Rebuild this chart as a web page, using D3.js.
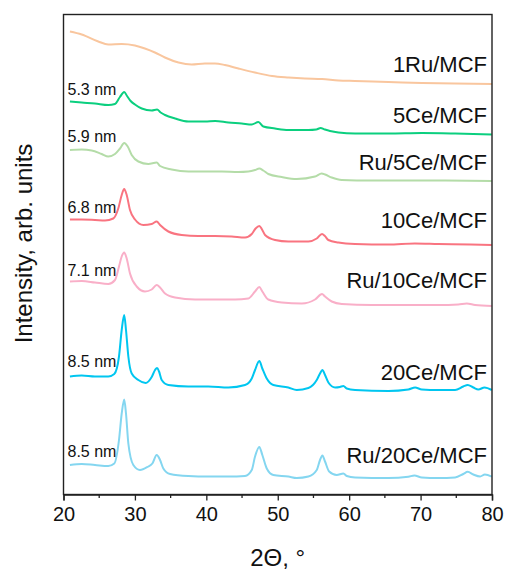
<!DOCTYPE html>
<html>
<head>
<meta charset="utf-8">
<script src="https://cdn.jsdelivr.net/npm/d3@7/dist/d3.min.js"></script>
<style>
  html, body { margin: 0; padding: 0; background: #fff; }
  svg { display: block; font-family: "Liberation Sans", Arial, sans-serif; }
</style>
</head>
<body>
<svg id="chart" width="505" height="570"></svg>
<script>
// XRD patterns, stacked with vertical offsets (arbitrary intensity units)
const seriesNames = ["1Ru/MCF", "5Ce/MCF", "Ru/5Ce/MCF", "10Ce/MCF", "Ru/10Ce/MCF", "20Ce/MCF", "Ru/20Ce/MCF"];
const crystalliteSizes = [null, "5.3 nm", "5.9 nm", "6.8 nm", "7.1 nm", "8.5 nm", "8.5 nm"];
const seriesColors = ["#F9C69E", "#0BCF7F", "#B4DCA8", "#F97480", "#F9AFC8", "#00C6F0", "#84D6F0"];
// baseline level of each name label and size label (same units as intensity)
const nameLevels = [422.5, 371.5, 324.5, 266.5, 206.5, 114.5, 31.5];
const sizeLevels = [null, 399.5, 353, 282, 218.5, 128, 38];

const xTicks = [20, 30, 40, 50, 60, 70, 80];
const xMinorTicks = [25, 35, 45, 55, 65, 75];

// [2θ (deg), intensity]
const ru1MCF = [
  [20.9, 463], [22.55, 460], [24.87, 453], [26.27, 450], [28.15, 450.5], [30.0, 449],
  [31.4, 446], [32.8, 442], [34.2, 437], [36.1, 432], [37.95, 430], [39.8, 431],
  [41.2, 431], [42.6, 429.5], [44.5, 426], [46.8, 422], [49.2, 418.5], [51.5, 417],
  [53.8, 416], [56.2, 415.5], [58.5, 414], [60.8, 413.5], [65.5, 412.5], [70.2, 411.5],
  [74.8, 411], [80.0, 410.5]
];
const ce5MCF = [
  [20.9, 393], [22.55, 392], [24.41, 391], [26.27, 389.5], [27.2, 390.5], [27.9, 397.5],
  [28.5, 402.5], [28.9, 398.5], [29.4, 393.5], [30.0, 390], [30.95, 386], [32.35, 384],
  [33.1, 385], [33.6, 382], [34.22, 379.5], [35.62, 376], [37.48, 373], [39.82, 373],
  [41.22, 373.5], [43.08, 372], [44.96, 371], [46.36, 370], [47.3, 372.5], [47.98, 368],
  [49.62, 366], [51.48, 364.5], [54.29, 364.5], [55.4, 365], [56.0, 366.5], [56.6, 365],
  [57.32, 363.5], [58.49, 362], [60.83, 361], [65.49, 361], [70.17, 361.5], [74.83, 361],
  [79.97, 360]
];
const ru5CeMCF = [
  [20.9, 344.5], [22.55, 345], [23.95, 344], [25.35, 340.5], [26.27, 338], [27.21, 340.5],
  [27.91, 346], [28.5, 351.5], [28.99, 348], [29.55, 339.5], [30.48, 333], [31.88, 330.5],
  [33.05, 332], [33.52, 328.5], [35.15, 325], [37.48, 323], [39.82, 323], [42.16, 323],
  [44.48, 322.5], [45.88, 323], [46.82, 324.5], [47.42, 326], [47.98, 324], [48.68, 320.5],
  [50.56, 317.5], [52.66, 315.5], [55.22, 318], [56.16, 321], [56.62, 320], [57.56, 317],
  [58.96, 314.5], [63.16, 314], [67.83, 314], [72.49, 314], [79.97, 313.5]
];
const ce10MCF = [
  [20.9, 275], [22.55, 275], [24.41, 274.5], [25.81, 274], [26.97, 276], [27.67, 286],
  [28.15, 299.5], [28.5, 305.5], [28.85, 299.5], [29.31, 284.5], [30.01, 275], [31.18, 269.5],
  [32.35, 270.5], [33.05, 273], [33.52, 269.5], [34.68, 263], [36.55, 259.5], [38.88, 258.5],
  [41.22, 258.5], [43.56, 258], [45.42, 257], [46.36, 260.5], [46.9, 266], [47.42, 268.5],
  [47.8, 265], [48.22, 259.5], [49.62, 254.5], [51.48, 253], [54.29, 253], [55.46, 256],
  [56.2, 260.5], [56.6, 258.5], [57.09, 254.5], [58.49, 252], [60.83, 250.5], [65.49, 250],
  [69.2, 251], [72.49, 250.5], [77.0, 250], [79.97, 249.5]
];
const ru10CeMCF = [
  [20.9, 213], [22.55, 213.5], [24.41, 212], [26.27, 210.5], [27.21, 214.5], [27.77, 228],
  [28.15, 238], [28.5, 242], [28.85, 236], [29.31, 221], [30.25, 208], [31.41, 203],
  [32.35, 205], [33.05, 209.5], [33.52, 207], [34.22, 201], [35.62, 197], [38.42, 195],
  [41.22, 195], [44.02, 195], [45.88, 196], [46.82, 203], [47.42, 207.5], [47.84, 203],
  [48.68, 195], [50.56, 192], [53.36, 191], [55.22, 195], [56.2, 200.5], [56.62, 198],
  [57.56, 193], [58.96, 190.5], [63.16, 189.5], [67.83, 189.5], [72.49, 189.5], [75.28, 190],
  [76.46, 191], [77.63, 189.5], [79.97, 188.5]
];
const ce20MCF = [
  [20.9, 118], [22.55, 119], [24.41, 118], [26.27, 118], [27.11, 120.5], [27.77, 138],
  [28.15, 164.5], [28.5, 179.5], [28.75, 164.5], [29.08, 138], [29.55, 121], [30.48, 114.5],
  [31.5, 111.5], [32.35, 117.5], [32.82, 124.5], [33.1, 126.5], [33.38, 123], [33.75, 114.5],
  [34.68, 109.5], [37.48, 108], [40.28, 108], [43.08, 107], [45.42, 109.5], [46.36, 116],
  [46.82, 124.5], [47.42, 133.5], [47.84, 126], [48.46, 116], [49.38, 109.5], [51.48, 107],
  [52.66, 104.5], [54.29, 106.5], [55.46, 114.5], [55.92, 121], [56.25, 124.5], [56.62, 119.5],
  [57.09, 112], [58.03, 107], [58.7, 107.5], [59.19, 108.5], [59.66, 106], [60.83, 104.5],
  [65.49, 103.5], [68.29, 105], [69.23, 107], [70.17, 105], [72.49, 104.5], [74.83, 104.5],
  [75.98, 108], [76.6, 109.5], [77.39, 107], [78.09, 105], [78.95, 107], [79.97, 104.5]
];
const ru20CeMCF = [
  [20.9, 29.5], [22.55, 30.5], [24.41, 29.5], [26.27, 28.5], [27.11, 31], [27.77, 54.5],
  [28.15, 81], [28.5, 95], [28.75, 81], [29.08, 51], [29.78, 29.5], [30.71, 24.5],
  [31.75, 27.5], [32.44, 31], [33.05, 39.5], [33.52, 34.5], [33.98, 26], [34.92, 20.5],
  [37.48, 18.5], [40.28, 18], [43.08, 18], [45.42, 18.5], [46.36, 24.5], [46.82, 38],
  [47.42, 47.5], [47.84, 39.5], [48.46, 26], [49.38, 19.5], [51.48, 18], [52.66, 16.5],
  [54.29, 18], [55.46, 24.5], [55.92, 34.5], [56.25, 39], [56.62, 33], [57.2, 23],
  [58.26, 19.5], [59.19, 21], [59.66, 18.5], [60.83, 17], [65.49, 16.5], [68.29, 17.8],
  [69.13, 19], [70.17, 17], [72.49, 16.5], [74.83, 17], [75.98, 20.5], [76.6, 22.7],
  [77.39, 20], [78.33, 18], [79.0, 20], [79.97, 17.8]
];
const seriesData = [ru1MCF, ce5MCF, ru5CeMCF, ce10MCF, ru10CeMCF, ce20MCF, ru20CeMCF];

const svg = d3.select("#chart");
const plot = { left: 63.5, right: 492, top: 14.5, bottom: 494.5 };

const x = d3.scaleLinear().domain([20, 80]).range([plot.left, plot.right]);
const y = d3.scaleLinear().domain([0, 480]).range([plot.bottom, plot.top]);

// curves
const line = d3.line()
  .x(d => x(d[0]))
  .y(d => y(d[1]))
  .curve(d3.curveMonotoneX);

svg.append("g")
  .selectAll("path")
  .data(seriesData)
  .join("path")
  .attr("d", line)
  .attr("fill", "none")
  .attr("stroke", (d, i) => seriesColors[i])
  .attr("stroke-width", 2)
  .attr("stroke-linejoin", "round");

// frame
svg.append("rect")
  .attr("x", plot.left).attr("y", plot.top)
  .attr("width", plot.right - plot.left)
  .attr("height", plot.bottom - plot.top)
  .attr("fill", "none")
  .attr("stroke", "#222")
  .attr("stroke-width", 1.4);

// bottom axis: major ticks with labels, minor ticks between
const xAxis = svg.append("g")
  .attr("transform", `translate(0,${plot.bottom})`)
  .call(d3.axisBottom(x).tickValues(xTicks).tickFormat(d3.format("d")).tickSize(6).tickPadding(6));
xAxis.select(".domain").attr("stroke", "#222").attr("stroke-width", 1.4);
xAxis.selectAll(".tick line").attr("stroke", "#222").attr("stroke-width", 1.3);
xAxis.selectAll(".tick text")
  .attr("fill", "#111")
  .style("font-size", "20px")
  .style("font-family", "'Liberation Sans', Arial, sans-serif");

svg.append("g")
  .selectAll("line")
  .data(xMinorTicks)
  .join("line")
  .attr("x1", d => x(d)).attr("x2", d => x(d))
  .attr("y1", plot.bottom).attr("y2", plot.bottom + 3.5)
  .attr("stroke", "#222").attr("stroke-width", 1.3);

// axis titles
svg.append("text")
  .attr("x", (plot.left + plot.right) / 2)
  .attr("y", 566)
  .attr("text-anchor", "middle")
  .style("font-size", "24px")
  .attr("fill", "#111")
  .text("2Θ, °");

svg.append("text")
  .attr("transform", "translate(32,243.5) rotate(-90)")
  .attr("text-anchor", "middle")
  .style("font-size", "24px")
  .attr("fill", "#111")
  .text("Intensity, arb. units");

// sample names at the right
svg.append("g")
  .selectAll("text")
  .data(seriesNames)
  .join("text")
  .attr("x", 487)
  .attr("y", (d, i) => y(nameLevels[i]))
  .attr("text-anchor", "end")
  .style("font-size", "22px")
  .attr("fill", "#111")
  .text(d => d);

// crystallite sizes at the left
svg.append("g")
  .selectAll("text")
  .data(crystalliteSizes.map((s, i) => ({ s, lvl: sizeLevels[i] })).filter(d => d.s))
  .join("text")
  .attr("x", 67.5)
  .attr("y", d => y(d.lvl))
  .style("font-size", "16px")
  .attr("fill", "#111")
  .text(d => d.s);
</script>
</body>
</html>
